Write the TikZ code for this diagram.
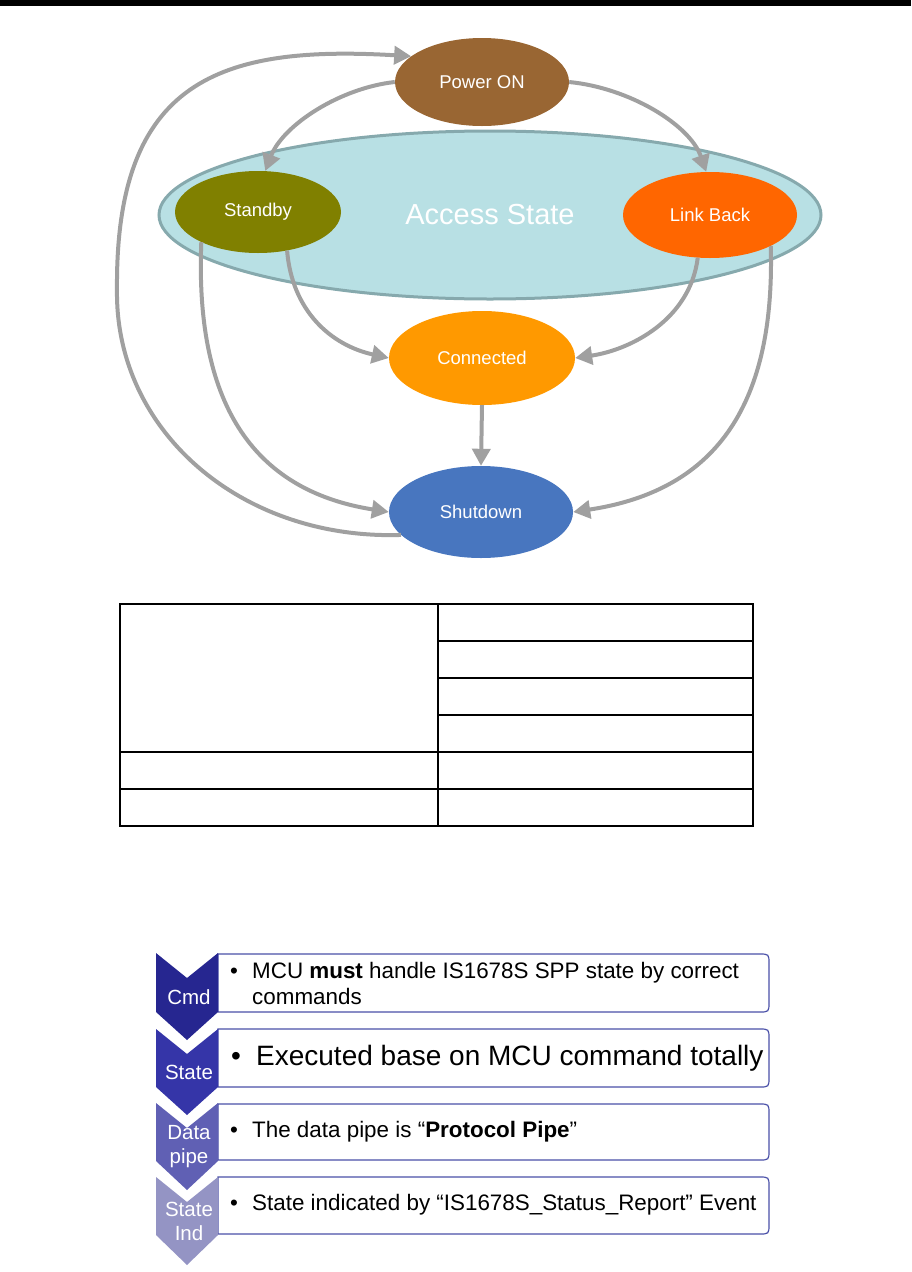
\documentclass[tikz,border=0pt]{standalone}
\usepackage{fontspec}
\setmainfont{Liberation Sans}
\usetikzlibrary{arrows.meta, positioning, shapes.geometric}

\definecolor{pwrbrown}{HTML}{996633}
\definecolor{accfill}{HTML}{B8E0E4}
\definecolor{accline}{HTML}{86A9AD}
\definecolor{sbyolive}{HTML}{808000}
\definecolor{lnkorange}{HTML}{FF6600}
\definecolor{conorange}{HTML}{FF9900}
\definecolor{shtblue}{HTML}{4876BF}
\definecolor{arrgray}{HTML}{A0A0A0}
\definecolor{boxline}{HTML}{4A50A8}
\definecolor{chevA}{HTML}{262690}
\definecolor{chevB}{HTML}{3535A8}
\definecolor{chevC}{HTML}{6060B4}
\definecolor{chevD}{HTML}{9494C4}

\begin{document}
\begin{tikzpicture}[x=1pt, y=-1pt,
        st/.style={ellipse, inner sep=0pt, text=white, font=\fontsize{18.5}{22}\selectfont},
        tr/.style={draw=arrgray, line width=4pt, -{Triangle[length=17pt, width=18pt]}},
        bx/.style={draw=boxline, line width=1.2pt, fill=white},
        lbl/.style={text=white, align=center, inner sep=0pt, font=\fontsize{20.5}{24}\selectfont},
        itm/.style={anchor=west, align=left, inner sep=0pt, font=\fontsize{22.4}{26}\selectfont},
        cell/.style={line width=1.5pt}
    ]
    \useasboundingbox (0,0) rectangle (911,1272);
    \fill (0,0) rectangle (911,6);

    % state diagram
    \node[ellipse, draw=accline, line width=3pt, fill=accfill, minimum width=662pt, minimum height=168pt, text=white, font=\fontsize{29}{32}\selectfont] (acc) at (490,215) {Access State};

    \node[st, fill=pwrbrown, minimum width=174pt, minimum height=88pt] (pwr) at (482,82) {Power ON};
    \node[st, fill=sbyolive, minimum width=166pt, minimum height=82pt] (sby) at (258,212) {Standby};
    \node[st, fill=lnkorange, minimum width=174pt, minimum height=86pt] (lnk) at (710,215) {Link Back};
    \node[st, fill=conorange, minimum width=186pt, minimum height=94pt] (con) at (482,358) {Connected};
    \node[st, fill=shtblue, minimum width=184pt, minimum height=92pt] (sht) at (481,512) {Shutdown};

    \draw[tr] (pwr.180) .. controls (340,88) and (283,125) .. (sby.80);
    \draw[tr] (pwr.0) .. controls (630,88) and (690,125) .. (lnk.95);
    \draw[tr] (sby.-53) .. controls (292,310) and (330,345) .. (con.west);
    \draw[tr] (lnk.-106) .. controls (690,320) and (630,350) .. (con.east);
    \draw[tr] (con.south) -- (sht.north);
    \draw[tr] (sby.-152) .. controls (195,400) and (250,490) .. (sht.west);
    \draw[tr] (lnk.-27) .. controls (775,400) and (720,490) .. (sht.east);
    \draw[tr] (sht.-164) .. controls (240,540) and (115,430) .. (117,290)
        .. controls (115,80) and (220,45) .. (pwr.160);

    % empty table
    \draw[cell] (120,604) rectangle (753,826);
    \draw[cell] (438,604) -- (438,826);
    \draw[cell] (438,641) -- (753,641);
    \draw[cell] (438,678) -- (753,678);
    \draw[cell] (438,715) -- (753,715);
    \draw[cell] (120,752) -- (753,752);
    \draw[cell] (120,789) -- (753,789);

    % chevron list
    \draw[bx] (218,954) -- (759,954) .. controls (769,954) .. (769,964) -- (769,1002) .. controls (769,1012) .. (759,1012) -- (218,1012) -- cycle;
    \draw[bx] (218,1029) -- (759,1029) .. controls (769,1029) .. (769,1039) -- (769,1077) .. controls (769,1087) .. (759,1087) -- (218,1087) -- cycle;
    \draw[bx] (218,1104) -- (759,1104) .. controls (769,1104) .. (769,1114) -- (769,1150) .. controls (769,1160) .. (759,1160) -- (218,1160) -- cycle;
    \draw[bx] (218,1177) -- (759,1177) .. controls (769,1177) .. (769,1187) -- (769,1224) .. controls (769,1234) .. (759,1234) -- (218,1234) -- cycle;

    \fill[chevA] (156,953) -- (187,978) -- (218,953) -- (218,1012) -- (187,1040) -- (156,1012) -- cycle;
    \fill[chevB] (156,1029) -- (187,1054) -- (218,1029) -- (218,1087) -- (187,1115) -- (156,1087) -- cycle;
    \fill[chevC] (156,1103) -- (187,1128) -- (218,1103) -- (218,1161) -- (187,1190) -- (156,1161) -- cycle;
    \fill[chevD] (156,1177) -- (187,1202) -- (218,1177) -- (218,1235) -- (187,1265) -- (156,1235) -- cycle;

    \node[lbl] (cmd) at (189,997) {Cmd};
    \node[lbl] (state) at (189,1072) {State};
    \node[lbl] (data) at (189,1147) {Data\\pipe};
    \node[lbl] (ind) at (189,1221) {State\\Ind};

    \node[itm] (cmdtxt) at (230,983) {\makebox[22pt][l]{\textbullet}MCU \textbf{must} handle IS1678S SPP state by correct\\\hspace*{22pt}commands};
    \node[itm, font=\fontsize{28}{32}\selectfont] (statetxt) at (231,1058) {\makebox[25pt][l]{\textbullet}Executed base on MCU command totally};
    \node[itm] (datatxt) at (230,1132) {\makebox[22pt][l]{\textbullet}The data pipe is “\textbf{Protocol Pipe}”};
    \node[itm] (indtxt) at (230,1205) {\makebox[22pt][l]{\textbullet}State indicated by “IS1678S\_Status\_Report” Event};
\end{tikzpicture}
\end{document}
